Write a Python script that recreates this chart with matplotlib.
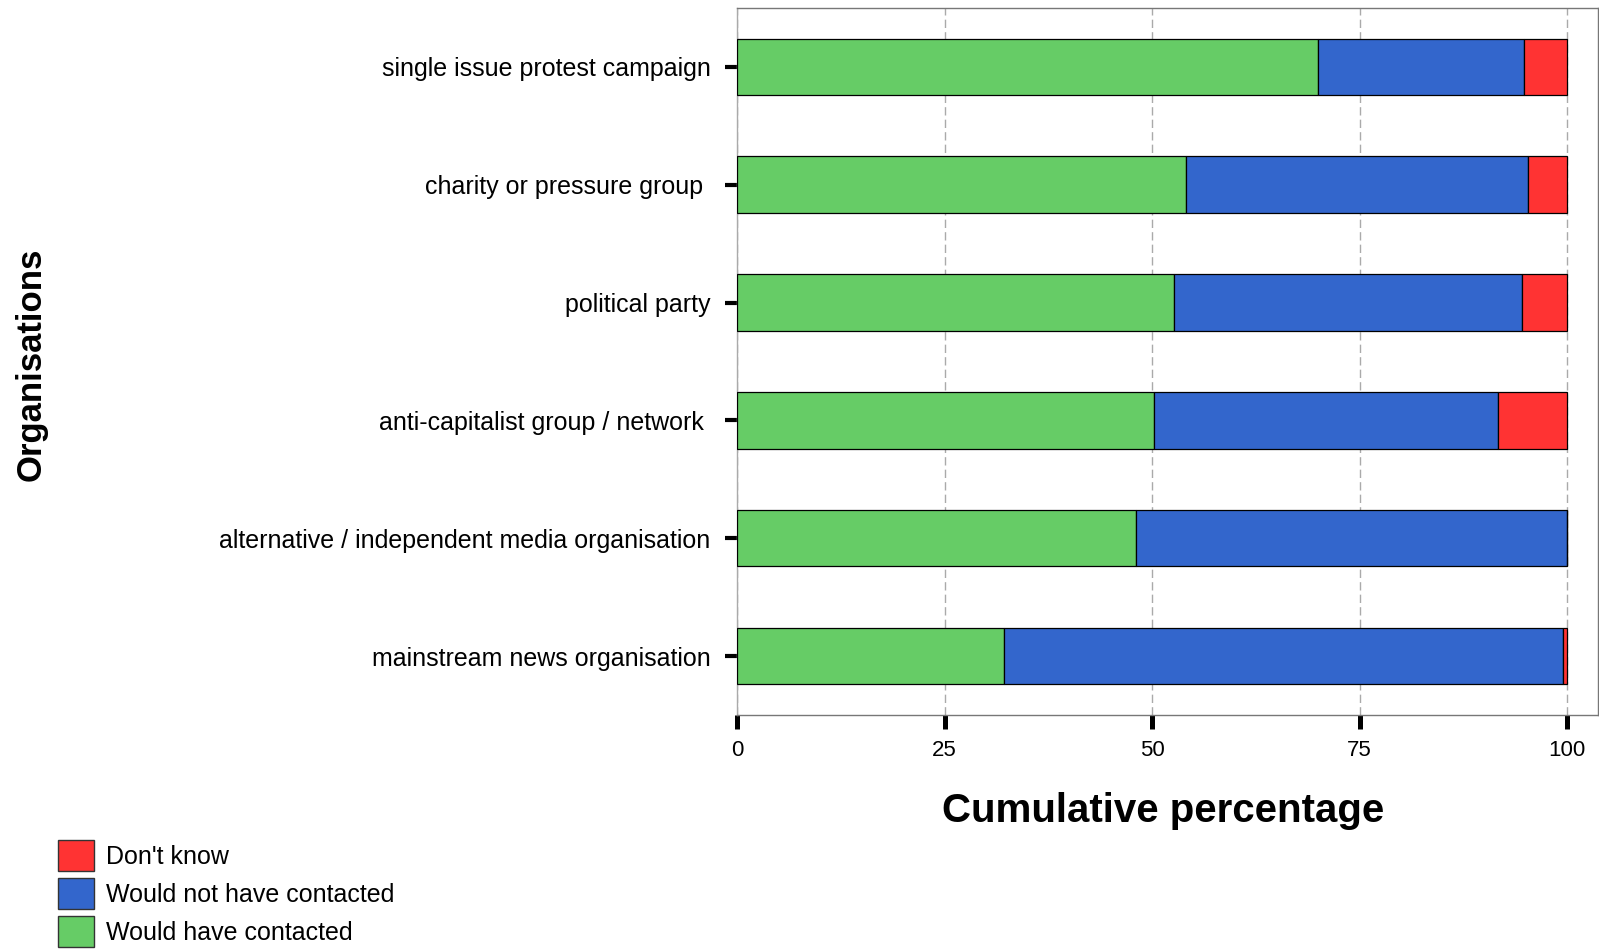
"""
Stacked bar chart - would have contacted organisations
"""

import numpy as np
import matplotlib.pyplot as plt
from matplotlib.patches import Patch

# %% Data (top to bottom, cumulative percentage)
organisations = ['single issue protest campaign',
                 'charity or pressure group ',
                 'political party',
                 'anti-capitalist group / network ',
                 'alternative / independent media organisation',
                 'mainstream news organisation']

would_have = [70.0, 54.1, 52.6, 50.2, 48.0, 32.1]
would_not = [24.8, 41.2, 42.0, 41.5, 52.0, 67.4]
dont_know = [5.2, 4.7, 5.4, 8.3, 0.0, 0.5]

xticks = [0, 25, 50, 75, 100]

green = '#66CC66'
blue = '#3366CC'
red = '#FF3333'

plt.rcParams['font.family'] = ['Liberation Sans', 'DejaVu Sans']

# %% Plot
fig = plt.figure(figsize=(15.99, 9.52), dpi=100)
ax = fig.add_axes([0.4609, 0.249, 0.5385, 0.7426])

y = np.arange(len(organisations))
wh = np.array(would_have)
wn = np.array(would_not)
dk = np.array(dont_know)

ax.barh(y, wh, height=0.48, color=green, edgecolor='black', linewidth=0.9, zorder=3)
ax.barh(y, wn, left=wh, height=0.48, color=blue, edgecolor='black', linewidth=0.9, zorder=3)
ax.barh(y, dk, left=wh + wn, height=0.48, color=red, edgecolor='black', linewidth=0.9, zorder=3)

ax.set_xlim(0, 103.7)
ax.set_ylim(5.5, -0.5)
ax.set_yticks(y)
ax.set_yticklabels(organisations, fontsize=18)
ax.set_xticks(xticks)
ax.set_xticklabels([str(t) for t in xticks], fontsize=16)

ax.tick_params(axis='y', length=9, width=3, pad=10, direction='out')
ax.tick_params(axis='x', length=10, width=3.6, pad=8, direction='out')

for t in xticks:
    ax.axvline(t, color='#aaaaaa', linestyle=(0, (6, 3)), linewidth=1, zorder=1)

for s in ['top', 'right', 'bottom']:
    ax.spines[s].set_color('#777777')
    ax.spines[s].set_linewidth(1)
ax.spines['left'].set_color('#aaaaaa')
ax.spines['left'].set_linewidth(1)

fig.text(0.7277, 0.148, 'Cumulative percentage', fontsize=29, fontweight='bold',
         ha='center', va='center')
fig.text(0.0195, 0.617, 'Organisations', fontsize=25, fontweight='bold',
         rotation=90, ha='center', va='center')

handles = [Patch(facecolor=red, edgecolor='#333333', label="Don't know"),
           Patch(facecolor=blue, edgecolor='#333333', label='Would not have contacted'),
           Patch(facecolor=green, edgecolor='#333333', label='Would have contacted')]
fig.legend(handles=handles, loc='upper left', bbox_to_anchor=(0.0363, 0.1176),
           frameon=False, fontsize=18, handlelength=1.42, handleheight=1.5,
           handletextpad=0.5, labelspacing=0.3, borderpad=0, borderaxespad=0)

plt.savefig('out.png', dpi=100)
